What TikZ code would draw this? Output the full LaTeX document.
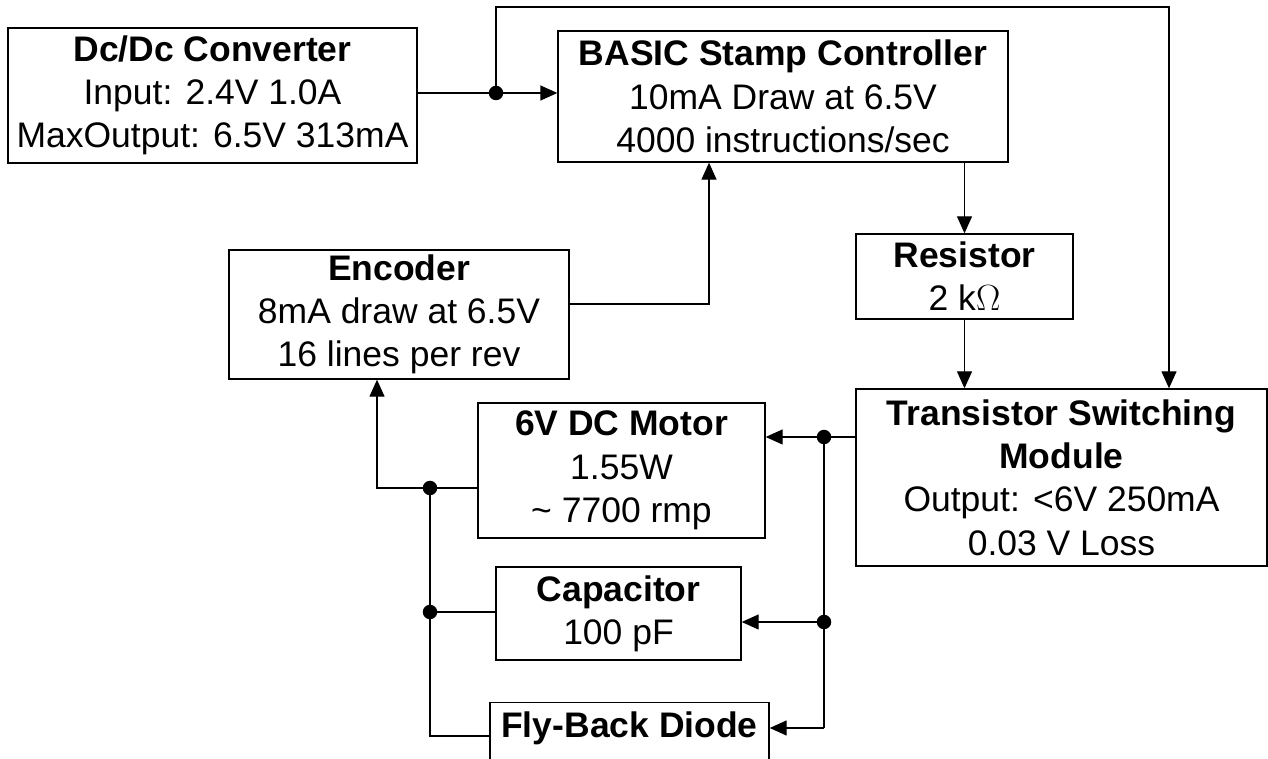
\documentclass[tikz,border=0pt]{standalone}
\usepackage{fontspec}
\setmainfont{Liberation Sans}
\usetikzlibrary{arrows.meta}

\begin{document}
\begin{tikzpicture}[
    x=0.02cm, y=-0.02cm,
    block/.style={draw, line width=0.8pt, inner sep=0pt, align=center, font=\fontsize{20.2}{24.6}\selectfont},
    wire/.style={line width=0.75pt},
    arr/.style={-{Triangle[length=0.34cm, width=0.3cm]}, line width=0.75pt},
    dot/.style={circle, fill, inner sep=0pt, minimum size=0.29cm}
]
\clip (0,0) rectangle (1268,759);

\node[block, minimum width=8.18cm, minimum height=2.7cm] (conv) at (212.5,95.5) {\textbf{Dc/Dc Converter}\\Input: 2.4V 1.0A\\MaxOutput: 6.5V 313mA};
\node[block, minimum width=9cm, minimum height=2.62cm] (stamp) at (783,96.5) {\textbf{BASIC Stamp Controller}\\10mA Draw at 6.5V\\4000 instructions/sec};
\node[block, minimum width=6.8cm, minimum height=2.58cm] (enc) at (399,314.5) {\textbf{Encoder}\\8mA draw at 6.5V\\16 lines per rev};
\node[block, minimum width=4.34cm, minimum height=1.7cm] (res) at (964.5,276.5) {\textbf{Resistor}\\2 k$\Omega$};
\node[block, minimum width=8.22cm, minimum height=3.54cm] (trans) at (1061.5,477.5) {\textbf{Transistor Switching}\\\textbf{Module}\\Output: <6V 250mA\\0.03 V Loss};
\node[block, minimum width=5.74cm, minimum height=2.7cm] (motor) at (621.5,470.5) {\textbf{6V DC Motor}\\1.55W\\\textasciitilde{} 7700 rmp};
\node[block, minimum width=4.9cm, minimum height=1.86cm] (cap) at (618.5,613.5) {\textbf{Capacitor}\\100 pF};
\node[block, anchor=north, minimum width=5.58cm, text height=0.7cm, text depth=1.4cm] (diode) at (629.5,702) {\textbf{Fly-Back Diode}};

% junctions
\coordinate (jA) at (496,93);
\coordinate (rail) at (1169,7);
\coordinate (b1) at (824,437);
\coordinate (b2) at (824,622);
\coordinate (b3) at (824,728);
\coordinate (l1) at (430,488);
\coordinate (l2) at (430,612);
\coordinate (l3) at (430,736);

% supply
\draw[wire] (conv.east |- jA) -- (jA);
\draw[arr] (jA) -- (stamp.west |- jA);
\draw[arr] (jA) |- (rail) -- (rail |- trans.north);

% control path
\draw[arr] (stamp.south -| res.north) -- (res.north);
\draw[arr] (res.south) -- (trans.north -| res.south);
\draw[arr] ([yshift=0.21cm]enc.east) -| ([xshift=-1.48cm]stamp.south);

% output bus
\draw[wire] (trans.west |- b1) -- (b1);
\draw[arr] (b1) -- (motor.east |- b1);
\draw[wire] (b1) -- (b3);
\draw[arr] (b2) -- (cap.east |- b2);
\draw[arr] (b3) -- (diode.east |- b3);

% return side
\draw[arr] (motor.west |- l1) -| ([xshift=-0.44cm]enc.south);
\draw[wire] (l1) |- (diode.west |- l3);
\draw[wire] (l2) -- (cap.west |- l2);

\foreach \p in {jA,b1,b2,l1,l2}
    \node[dot] at (\p) {};
\end{tikzpicture}
\end{document}
